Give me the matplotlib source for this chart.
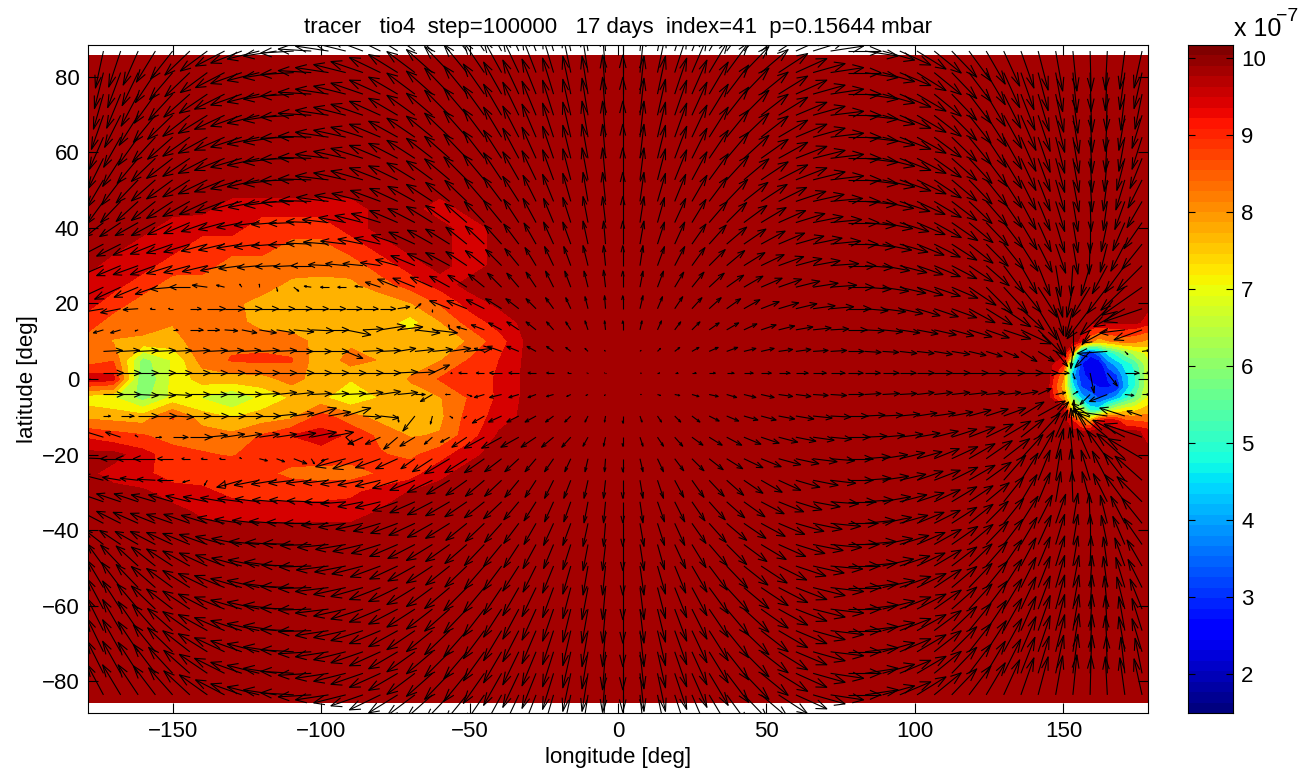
import numpy as np
import matplotlib
matplotlib.use('Agg')
import matplotlib.pyplot as plt
from matplotlib.collections import LineCollection

plt.rcParams['font.family'] = ['Liberation Sans', 'DejaVu Sans']
plt.rcParams['font.size'] = 16

# wind arrows, one row per latitude (north to south), one column per longitude
arrow_lon = [-173.3, -167.5, -161.6, -155.8, -150.0, -144.2, -138.3, -132.5, -126.7, -120.8,
             -115.0, -109.2, -103.3, -97.5, -91.7, -85.9, -80.0, -74.2, -68.4, -62.5,
             -56.7, -50.9, -45.0, -39.2, -33.4, -27.6, -21.7, -15.9, -10.1, -4.2,
             1.6, 7.4, 13.3, 19.1, 24.9, 30.7, 36.6, 42.4, 48.2, 54.1,
             59.9, 65.7, 71.6, 77.4, 83.2, 89.1, 94.9, 100.7, 106.5, 112.4,
             118.2, 124.0, 129.9, 135.7, 141.5, 147.4, 153.2, 159.0, 164.8, 170.7,
             176.5]
arrow_lat = [86.8, 81.1, 75.4, 69.8, 64.0, 58.4, 52.7, 47.0, 41.4, 35.7, 30.0, 24.3, 18.6, 13.0, 7.3, 1.6,
             -4.1, -9.8, -15.4, -21.1, -26.8, -32.5, -38.2, -43.8, -49.5, -55.2, -60.9, -66.6, -72.2, -77.9, -83.6]

u_wind = [
 [-8,-12,-15,-19,-22,-25,-27,-29,-31,-32, -33,-33,-33,-33,-32,-32,-31,-29,-28,-26, -25,-23,-21,-18,-16,-14,-11,-8,-6,-3, 0,4,8,12,15,19,22,25,27,29, 31,32,33,33,33,32,31,29,27,25, 22,19,16,13,10,7,4,1,-2,-5, -8],
 [-9,-13,-16,-20,-23,-25,-27,-29,-31,-32, -33,-33,-33,-33,-32,-32,-31,-29,-28,-26, -25,-23,-21,-18,-16,-14,-11,-8,-6,-3, 0,4,8,12,15,19,22,25,27,29, 31,32,33,33,33,32,31,29,27,25, 22,19,16,13,10,7,4,1,-2,-5, -8],
 [-10,-14,-17,-21,-24,-26,-28,-30,-31,-32, -33,-33,-33,-33,-32,-32,-31,-29,-28,-26, -25,-23,-21,-18,-16,-14,-11,-8,-6,-3, 0,4,8,12,15,19,22,25,27,29, 31,32,33,33,33,32,31,29,27,25, 22,19,17,14,11,8,5,2,-1,-4, -7],
 [-12,-16,-19,-22,-25,-27,-29,-30,-31,-32, -33,-33,-33,-33,-32,-32,-31,-29,-28,-26, -25,-23,-21,-18,-16,-14,-11,-8,-6,-3, 0,4,8,12,15,19,22,25,27,29, 31,32,33,33,33,32,31,29,27,25, 22,20,18,15,12,9,6,2,-2,-6, -10],
 [-14,-17,-20,-23,-25,-27,-29,-30,-31,-32, -33,-33,-33,-33,-32,-32,-31,-29,-28,-26, -25,-23,-21,-18,-16,-14,-11,-8,-6,-3, 0,4,8,12,15,19,22,25,27,29, 31,32,33,33,33,32,31,29,27,25, 22,20,18,15,12,9,6,2,-2,-6, -10],
 [-15,-18,-21,-24,-26,-27,-29,-30,-31,-32, -33,-33,-33,-33,-32,-32,-31,-29,-28,-26, -25,-23,-21,-18,-16,-14,-11,-8,-6,-3, 0,4,8,12,15,19,22,25,27,29, 31,32,33,33,33,32,31,29,27,25, 23,21,18,15,12,9,6,2,-3,-8, -12],
 [-16,-19,-22,-24,-26,-27,-29,-30,-31,-32, -33,-33,-33,-33,-32,-32,-31,-29,-28,-26, -25,-23,-21,-18,-16,-14,-11,-8,-6,-3, 0,4,8,12,15,19,22,25,27,29, 31,32,33,33,33,32,31,29,27,25, 23,21,18,15,12,9,6,2,-4,-9, -14],
 [-16,-20,-22,-24,-26,-27,-28,-29,-30,-31, -32,-32,-32,-32,-31,-31,-30,-28,-27,-26, -24,-22,-20,-18,-16,-13,-11,-8,-5,-3, 0,4,8,11,15,18,21,24,26,28, 30,31,32,32,32,31,30,28,27,25, 23,21,18,15,12,9,5,1,-4,-10, -15],
 [-18,-21,-23,-24,-25,-26,-26,-26,-25,-25, -25,-25,-25,-26,-27,-28,-29,-28,-27,-26, -24,-22,-20,-18,-15,-13,-10,-8,-5,-3, 0,4,7,11,14,18,20,23,25,27, 29,30,31,31,31,30,29,28,27,26, 24,22,19,16,13,9,5,0,-6,-12, -18],
 [-23,-24,-25,-25,-26,-26,-26,-26,-25,-25, -25,-25,-25,-25,-25,-25,-26,-26,-26,-25, -24,-21,-19,-17,-15,-12,-10,-8,-5,-2, 0,4,7,10,14,17,20,22,24,26, 28,29,30,30,30,29,28,27,26,25, 24,22,20,17,14,10,5,-1,-7,-14, -20],
 [-23,-24,-25,-25,-26,-26,-25,-24,-23,-22, -21,-20,-20,-20,-20,-20,-20,-22,-24,-25, -24,-21,-19,-16,-14,-11,-9,-7,-5,-2, 0,3,7,10,13,16,18,21,23,25, 26,27,28,28,28,27,27,26,26,25, 24,23,20,16,12,5,-2,-9,-15,-20, -25],
 [-28,-26,-24,-20,-22,-20,-15,-8,-2,0, 1,5,-7,-8,-8,-8,-15,-20,-22,-22, -20,-19,-16,-14,-12,-10,-8,-6,-4,-2, 0,3,6,9,12,15,17,19,21,23, 24,25,26,26,26,26,26,26,26,26, 27,26,24,20,19,7,-6,-18,-20,-24, -40],
 [-30,-20,-15,-5,-4,11,18,20,20,19, 18,18,17,17,16,15,15,12,6,0, -20,-20,-18,-16,-13,-10,-8,-5,-3,-1, 0,3,5,8,10,12,14,16,18,20, 21,22,23,23,23,23,23,23,24,25, 26,26,27,23,19,8,-7,-23,-27,-31, -38],
 [-10,-10,-3,0,5,13,12,13,15,17, 18,20,22,20,25,20,25,25,25,25, -1,-10,-13,-13,-12,-10,-7,-5,-3,-1, 0,2,4,6,8,10,12,13,15,16, 17,18,18,19,19,20,20,21,22,22, 23,23,27,30,25,10,0,-8,-24,-25, -28],
 [19,19,20,20,19,20,20,19,19,20, 20,19,20,20,17,20,20,18,19,20, 21,25,-10,-14,-12,-9,-7,-5,-3,-1, 0,1,3,5,7,9,11,12,13,14, 15,15,16,16,16,16,17,17,18,18, 17,16,15,16,16,12,-2,-15,-30,3, 7],
 [20,20,20,20,19,20,20,20,20,20, 20,20,20,20,20,20,20,20,20,17, 2,-8,-8,-12,-10,-8,-7,-3,-1,-1, 0,1,2,3,4,6,7,9,10,11, 12,13,14,15,15,16,16,17,18,18, 19,20,21,22,20,13,2,4,10,14, 7],
 [20,20,20,20,19,20,20,20,20,20, 20,20,20,20,20,20,20,20,10,-12, -4,5,-10,-12,-10,-8,-7,-4,-2,-1, 0,1,3,5,7,9,10,12,13,14, 15,15,16,16,16,17,17,17,18,18, 18,18,17,17,13,10,5,-10,-18,9, 7],
 [7,13,20,21,21,21,21,21,21,21, 20,20,25,22,25,18,18,1,-12,-2, 3,-3,-12,-13,-12,-11,-8,-6,-3,-1, 0,2,4,6,8,10,12,14,15,16, 18,19,20,20,20,20,20,20,21,21, 22,22,22,23,27,13,1,-18,-35,-25, -15],
 [-23,-15,-3,6,15,22,20,20,20,20, 20,22,25,25,8,-15,-15,-14,-15,-8, -9,-15,-20,-20,-18,-15,-12,-9,-5,-2, 0,3,6,8,11,13,15,17,18,19, 20,21,21,22,22,22,23,23,24,25, 26,27,27,23,22,12,-2,-16,-29,-32, -38],
 [-25,-20,-22,-22,-15,-8,-6,-5,-2,8, 8,13,3,-7,-30,-30,-25,-22,-14,-20, -25,-22,-20,-17,-14,-11,-9,-6,-3,-1, 0,3,6,9,12,14,16,19,20,22, 23,24,24,25,25,25,25,25,25,26, 26,26,26,22,16,8,-3,-13,-20,-28, -34],
 [-20,-18,-18,-18,-15,-7,-3,1,-25,-25, -25,-25,-25,-25,-25,-25,-25,-25,-25,-25, -23,-21,-19,-17,-14,-11,-9,-7,-4,-2, 0,3,6,9,12,15,17,19,21,22, 24,25,25,25,26,26,26,26,26,26, 26,25,22,17,12,5,-2,-9,-15,-21, -27],
 [-23,-24,-24,-24,-24,-24,-24,-24,-24,-24, -24,-24,-24,-24,-25,-25,-25,-25,-25,-25, -24,-22,-20,-18,-15,-12,-9,-7,-4,-2, 0,3,7,10,13,16,18,21,23,25, 26,27,28,28,28,28,27,27,26,25, 24,23,20,16,12,5,-1,-8,-14,-20, -25],
 [-23,-24,-25,-25,-26,-26,-26,-27,-27,-27, -27,-27,-27,-27,-27,-27,-27,-27,-26,-25, -24,-21,-19,-17,-15,-12,-10,-8,-5,-2, 0,4,7,10,14,17,20,22,24,26, 28,29,30,30,30,29,28,27,26,25, 24,22,20,17,14,10,5,-1,-7,-14, -20],
 [-18,-21,-23,-25,-26,-27,-28,-29,-30,-30, -31,-31,-31,-31,-30,-30,-29,-28,-27,-26, -24,-22,-20,-18,-15,-13,-10,-8,-5,-3, 0,4,7,11,14,18,20,23,25,27, 29,30,31,31,31,30,29,28,27,26, 24,22,19,16,13,9,5,0,-6,-12, -18],
 [-16,-20,-22,-24,-26,-27,-28,-29,-30,-31, -32,-32,-32,-32,-31,-31,-30,-28,-27,-26, -24,-22,-20,-18,-16,-13,-11,-8,-5,-3, 0,4,8,11,15,18,21,24,26,28, 30,31,32,32,32,31,30,28,27,25, 23,21,18,15,12,9,5,1,-4,-10, -15],
 [-16,-19,-22,-24,-26,-27,-29,-30,-31,-32, -33,-33,-33,-33,-32,-32,-31,-29,-28,-26, -25,-23,-21,-18,-16,-14,-11,-8,-6,-3, 0,4,8,12,15,19,22,25,27,29, 31,32,33,33,33,32,31,29,27,25, 23,21,18,15,12,9,6,2,-4,-9, -14],
 [-16,-18,-21,-24,-26,-27,-29,-30,-31,-32, -33,-33,-33,-33,-32,-32,-31,-29,-28,-26, -25,-23,-21,-18,-16,-14,-11,-8,-6,-3, 0,4,8,12,15,19,22,25,27,29, 31,32,33,33,33,32,31,29,27,25, 23,21,18,15,12,9,6,2,-3,-8, -12],
 [-16,-18,-20,-23,-25,-27,-29,-30,-31,-32, -33,-33,-33,-33,-32,-32,-31,-29,-28,-26, -25,-23,-21,-18,-16,-14,-11,-8,-6,-3, 0,4,8,12,15,19,22,25,27,29, 31,32,33,33,33,32,31,29,27,25, 22,20,18,15,12,9,6,2,-2,-6, -10],
 [-16,-18,-20,-22,-25,-27,-29,-30,-31,-32, -33,-33,-33,-33,-32,-32,-31,-29,-28,-26, -25,-23,-21,-18,-16,-14,-11,-8,-6,-3, 0,4,8,12,15,19,22,25,27,29, 31,32,33,33,33,32,31,29,27,25, 22,20,18,15,12,9,6,2,-2,-6, -10],
 [-16,-18,-20,-22,-24,-26,-28,-30,-31,-32, -33,-33,-33,-33,-32,-32,-31,-29,-28,-26, -25,-23,-21,-18,-16,-14,-11,-8,-6,-3, 0,4,8,12,15,19,22,25,27,29, 31,32,33,33,33,32,31,29,27,25, 22,19,17,14,11,8,5,2,-1,-4, -7],
 [-16,-18,-20,-22,-24,-26,-28,-29,-31,-32, -33,-33,-33,-33,-32,-32,-31,-29,-28,-26, -25,-23,-21,-18,-16,-14,-11,-8,-6,-3, 0,4,8,12,15,19,22,25,27,29, 31,32,33,33,33,32,31,29,27,25, 22,19,16,13,10,7,4,1,-2,-5, -8],
]

v_wind = [
 [-37,-36,-34,-31,-28,-24,-20,-15,-12,-8, -5,-2,2,5,8,12,15,18,21,24, 26,29,31,33,35,36,38,39,40,40, 40,40,39,38,36,33,30,27,23,19, 14,10,5,0,-5,-9,-14,-18,-22,-26, -30,-33,-35,-37,-39,-40,-40,-40,-39,-38, -37],
 [-36,-35,-33,-30,-27,-24,-20,-15,-11,-8, -5,-2,2,5,8,11,15,18,21,23, 26,28,31,33,34,36,37,38,39,39, 40,39,38,37,35,32,30,26,23,19, 14,9,5,0,-5,-9,-13,-18,-22,-26, -29,-32,-35,-37,-38,-39,-40,-39,-38,-37, -36],
 [-35,-34,-32,-29,-26,-23,-19,-15,-11,-8, -5,-2,2,5,8,11,14,17,21,23, 26,28,30,32,34,35,36,38,38,39, 39,38,38,36,34,32,29,26,22,18, 14,9,5,0,-5,-9,-13,-17,-22,-26, -29,-32,-34,-36,-37,-38,-39,-38,-37,-36, -35],
 [-34,-32,-30,-27,-24,-21,-18,-14,-11,-8, -5,-2,2,5,8,11,14,17,20,22, 25,27,29,31,33,34,35,36,37,38, 38,37,36,35,33,31,28,25,21,18, 13,9,4,0,-4,-9,-13,-17,-21,-25, -28,-31,-33,-35,-36,-37,-38,-37,-36,-35, -33],
 [-32,-30,-28,-25,-22,-19,-16,-13,-10,-7, -5,-1,1,5,7,10,13,16,19,21, 24,26,28,30,31,33,34,35,36,36, 36,36,35,34,32,30,27,24,21,17, 13,9,4,0,-4,-8,-12,-16,-20,-24, -27,-30,-32,-34,-35,-36,-36,-36,-35,-34, -32],
 [-30,-28,-25,-23,-20,-18,-15,-12,-9,-7, -4,-1,1,4,7,10,13,15,18,20, 22,24,27,28,30,31,32,33,34,34, 34,34,33,32,30,28,26,23,19,16, 12,8,4,0,-4,-8,-12,-15,-19,-22, -25,-28,-30,-32,-33,-34,-34,-34,-33,-32, -30],
 [-27,-25,-23,-21,-19,-17,-14,-12,-9,-7, -4,-1,1,4,7,9,12,14,17,19, 21,23,25,27,28,29,30,31,32,32, 32,32,31,30,28,26,24,21,18,15, 12,8,4,0,-4,-7,-11,-14,-18,-21, -24,-26,-28,-30,-31,-32,-32,-32,-31,-30, -28],
 [-22,-21,-20,-19,-17,-15,-13,-11,-8,-6, -4,-1,1,4,6,8,11,13,15,17, 19,21,23,24,25,26,27,28,29,29, 29,29,28,27,26,24,22,19,17,14, 10,7,3,0,-3,-7,-10,-13,-16,-19, -22,-24,-26,-28,-29,-30,-30,-30,-29,-28, -26],
 [-14,-14,-13,-13,-12,-11,-9,-7,-5,-3, -2,-1,1,3,5,7,9,12,14,16, 17,19,21,22,23,24,24,25,26,26, 26,26,25,24,23,21,20,17,15,12, 9,6,3,0,-3,-6,-9,-12,-15,-18, -20,-23,-25,-27,-29,-30,-30,-30,-29,-28, -26],
 [-12,-12,-11,-10,-9,-8,-7,-6,-4,-3, -2,-1,1,2,3,5,6,9,12,14, 15,17,18,19,20,21,22,22,23,23, 23,23,22,22,20,19,17,15,13,11, 8,6,3,0,-3,-6,-8,-11,-13,-16, -19,-22,-25,-27,-28,-29,-30,-30,-28,-27, -25],
 [-10,-10,-9,-9,-8,-7,-6,-5,-3,-2, -1,-1,0,1,2,2,3,6,10,12, 13,14,15,16,17,18,19,19,20,20, 20,20,19,19,18,16,15,13,11,9, 7,5,2,0,-2,-5,-7,-9,-11,-13, -16,-20,-27,-28,-30,-31,-30,-30,-28,-27, -25],
 [-13,-12,-10,-7,-2,0,2,2,3,3, -4,-4,1,0,0,1,5,8,9,10, 11,12,13,14,14,15,16,16,16,17, 16,16,16,15,15,14,12,11,9,8, 6,4,2,0,-2,-4,-6,-8,-9,-11, -18,-26,-26,-25,-30,-30,-30,-30,-26,-23, -28],
 [-5,-4,-1,0,0,0,0,0,0,0, 0,0,0,0,0,0,0,2,5,-3, 8,8,9,10,10,10,11,11,12,13, 13,13,12,12,11,11,10,9,7,6, 5,3,2,0,-2,-3,-5,-7,-8,-9, -14,-16,-18,-21,-31,-27,-28,-30,-26,-18, -13],
 [-3,-3,-1,0,0,0,0,-1,-3,-3, -3,-2,-1,0,-5,1,4,3,-3,-3, 5,3,5,7,8,8,8,8,9,9, 9,9,9,8,8,7,7,6,5,4, 3,2,1,0,-1,-2,-3,-4,-5,-6, -7,-8,-9,-14,-25,-27,-25,-15,-13,-3, -10],
 [1,1,1,1,1,1,1,1,1,1, 1,0,0,0,-7,1,1,3,2,2, 3,3,3,5,5,5,5,4,3,1, 0,1,3,4,4,4,4,3,3,2, 2,1,1,0,-1,-1,-2,-2,-3,-3, -4,-5,-6,-10,-10,-15,-17,-16,-2,-3, 1],
 [0,0,0,0,0,0,0,0,0,0, 0,0,0,0,0,0,0,1,1,8, 0,0,0,0,0,0,0,0,0,0, 0,0,0,0,0,0,0,0,0,0, 0,0,0,0,0,0,0,0,0,0, 0,0,0,0,0,0,-6,-20,-13,0, 0],
 [0,0,-1,-1,-1,0,0,0,0,1, 2,2,1,1,1,2,3,2,0,-7, 0,-2,-3,-3,-3,-3,-2,-2,-1,-1, 0,0,-1,-1,-2,-2,-3,-3,-3,-2, -2,-1,-1,0,1,1,1,2,2,2, 2,2,2,3,6,2,3,-10,-7,-1, 0],
 [0,0,0,0,-1,0,0,0,0,0, 2,3,8,4,8,-1,-2,-6,-15,-8, -2,-2,-7,-6,-6,-6,-6,-6,-6,-6, -7,-6,-6,-6,-6,-5,-5,-4,-4,-3, -3,-2,-1,0,1,1,2,3,3,4, 6,7,8,14,15,14,16,12,5,8, 5],
 [7,5,2,0,0,0,2,3,3,3, 3,4,5,5,-8,-7,-7,-12,-9,-7, -5,-10,-11,-11,-10,-10,-10,-10,-9,-9, -9,-9,-9,-9,-8,-8,-8,-7,-6,-5, -4,-3,-2,0,1,2,3,4,6,8, 10,13,16,18,24,27,29,29,24,17, 13],
 [1,0,0,0,0,0,0,0,1,-2, -3,-5,-5,-2,-8,-10,-9,-10,-10,-13, -15,-14,-14,-13,-13,-13,-13,-13,-13,-13, -13,-13,-13,-12,-12,-11,-10,-9,-8,-6, -5,-3,-2,0,2,4,6,7,10,12, 15,18,20,24,28,30,31,30,28,25, 20],
 [5,3,2,1,0,-2,-5,-7,-7,-5, -4,-3,-3,-3,-4,-5,-6,-8,-10,-12, -14,-15,-16,-16,-17,-17,-18,-18,-18,-18, -18,-18,-18,-17,-17,-16,-15,-13,-12,-10, -7,-5,-3,0,2,4,6,9,10,13, 15,18,25,27,30,31,31,30,29,27, 24],
 [8,8,8,7,7,6,5,4,3,3, 2,2,1,0,-2,-5,-6,-9,-11,-13, -14,-15,-16,-17,-18,-19,-20,-20,-21,-21, -21,-21,-20,-20,-19,-18,-16,-15,-12,-10, -8,-5,-2,0,2,5,7,9,12,15, 16,19,25,27,29,30,30,30,28,27, 25],
 [12,12,11,10,9,9,8,6,4,3, 2,1,0,-2,-4,-6,-8,-10,-12,-14, -15,-17,-18,-19,-20,-21,-22,-22,-23,-23, -23,-23,-22,-22,-20,-19,-17,-15,-13,-11, -8,-6,-3,0,3,6,8,11,13,16, 19,22,25,27,28,29,30,30,28,27, 25],
 [14,14,13,13,12,11,10,8,6,3, 2,1,-1,-3,-5,-7,-9,-12,-14,-16, -17,-19,-21,-22,-23,-24,-24,-25,-26,-26, -26,-26,-25,-24,-23,-21,-20,-17,-15,-12, -9,-6,-3,0,3,6,9,12,15,18, 20,23,25,27,29,30,30,30,29,28, 26],
 [22,21,20,19,17,15,13,11,8,6, 4,1,-1,-4,-6,-8,-11,-13,-15,-17, -19,-21,-23,-24,-25,-26,-27,-28,-29,-29, -29,-29,-28,-27,-26,-24,-22,-19,-17,-14, -10,-7,-3,0,3,7,10,13,16,19, 22,24,26,28,29,30,30,30,29,28, 26],
 [27,25,23,21,19,17,14,12,9,7, 4,1,-1,-4,-7,-9,-12,-14,-17,-19, -21,-23,-25,-27,-28,-29,-30,-31,-32,-32, -32,-32,-31,-30,-28,-26,-24,-21,-18,-15, -12,-8,-4,0,4,7,11,14,18,21, 24,26,28,30,31,32,32,32,31,30, 28],
 [30,28,25,23,20,18,15,12,9,7, 4,1,-1,-4,-7,-10,-13,-15,-18,-20, -22,-24,-27,-28,-30,-31,-32,-33,-34,-34, -34,-34,-33,-32,-30,-28,-26,-23,-19,-16, -12,-8,-4,0,4,8,12,15,19,22, 25,28,30,32,33,34,34,34,33,32, 30],
 [32,31,29,26,22,19,16,13,10,7, 5,1,-1,-5,-7,-10,-13,-16,-19,-21, -24,-26,-28,-30,-31,-33,-34,-35,-36,-36, -36,-36,-35,-34,-32,-30,-27,-24,-21,-17, -13,-9,-4,0,4,8,12,16,20,24, 27,30,32,34,35,36,36,36,35,34, 32],
 [33,32,30,27,24,21,18,14,11,8, 5,2,-2,-5,-8,-11,-14,-17,-20,-22, -25,-27,-29,-31,-33,-34,-35,-36,-37,-38, -38,-37,-36,-35,-33,-31,-28,-25,-21,-18, -13,-9,-4,0,4,9,13,17,21,25, 28,31,33,35,36,37,38,37,36,35, 33],
 [32,32,31,29,26,23,19,15,11,8, 5,2,-2,-5,-8,-11,-14,-17,-21,-23, -26,-28,-30,-32,-34,-35,-36,-38,-38,-39, -39,-38,-38,-36,-34,-32,-29,-26,-22,-18, -14,-9,-5,0,5,9,13,17,22,26, 29,32,34,36,37,38,39,38,37,36, 35],
 [30,30,30,29,27,24,20,15,11,8, 5,2,-2,-5,-8,-11,-15,-18,-21,-23, -26,-28,-31,-33,-34,-36,-37,-38,-39,-39, -40,-39,-38,-37,-35,-32,-30,-26,-23,-19, -14,-9,-5,0,5,9,13,18,22,26, 29,32,35,37,38,39,40,39,38,37, 36],
]

# tracer on the night side plume, in units of 1e-7
plume_lon = [-178.5, -170, -160, -150, -140, -130, -120, -110, -100, -90, -80, -70, -60, -50, -40, -30]
plume_lat = [85.7, 50, 45, 40, 35, 30, 25, 20, 15, 10, 5, 0, -5, -10, -15, -20, -25, -30, -35, -40, -85.7]
plume = [
 [10,10,10,10,10,10,10,10,10,10,10,10,10,10,10,10],
 [10,10,10,10,10,10,10,10,10,10,10,10,10,10,10,10],
 [10,10,10,10,9.95,9.7,9.7,9.7,9.7,9.7,10,10,9.7,10,10,10],
 [10,10,10,9.7,9.7,9.7,9.2,9.2,9.2,9.7,10,10,10,9.7,10,10],
 [10,10,9.7,9.7,9.2,9.2,9.2,8.75,8.75,9.2,9.7,10,10,9.7,10,10],
 [10,9.7,9.7,9.2,9.2,8.65,8.65,8.65,8.65,8.65,9.2,9.7,10,9.7,10,10],
 [9.7,9.7,9.2,8.7,8.65,8.65,8.65,8.2,8.1,8.2,8.7,9.2,9.7,10,10,10],
 [9.7,9.2,8.7,8.65,8.65,8.5,8.1,8.1,8.1,8.0,7.9,8.3,9.0,9.7,9.95,10],
 [9.2,8.7,8.65,8.4,8.6,8.6,8.1,8.0,8.0,8.1,8.1,7.5,8.3,9.2,9.7,10],
 [8.7,8.3,8.2,8.1,8.7,8.8,8.7,8.65,8.1,8.2,8.0,8.0,8.0,8.4,9.3,10],
 [8.6,8.9,6.3,7.2,8.6,9.0,9.1,9.0,7.9,8.6,8.3,8.1,8.3,9.0,9.5,10],
 [9.9,9.7,5.9,7.3,8.0,8.1,8.1,8.6,8.0,7.8,7.9,8.4,9.0,9.1,9.6,10],
 [7.4,7.2,6.3,7.3,7.1,6.5,7.3,7.8,7.9,7.2,7.8,8.1,8.3,9.0,9.6,10],
 [8.2,8.1,8.0,9.0,8.0,7.7,8.0,8.2,9.2,8.6,8.1,8.0,8.2,9.2,9.7,10],
 [9.4,9.2,9.0,8.7,8.7,8.5,9.0,9.5,9.7,9.4,8.8,8.3,8.4,9.3,9.95,10],
 [10,10,9.7,9.2,9.0,8.9,9.2,9.2,9.3,9.2,9.0,8.8,9.3,9.8,10,10],
 [9.95,9.75,9.6,9.3,9.3,9.3,9.1,8.8,8.7,8.7,9.0,9.3,9.8,10,10,10],
 [10,10,9.95,9.7,9.6,9.4,9.3,9.3,9.3,9.4,9.7,9.9,10,10,10,10],
 [10,10,10,10,9.8,9.7,9.7,9.7,9.7,9.7,9.9,10,10,10,10,10],
 [10,10,10,10,10,10,10,10,10,10,10,10,10,10,10,10],
 [10,10,10,10,10,10,10,10,10,10,10,10,10,10,10,10],
]

# tracer around the cold trap on the east side
trap_lon = [145, 150, 153, 156, 159, 162, 165, 168, 171, 174, 178.5]
trap_lat = [20, 15, 10, 7, 4, 1, -2, -5, -8, -11, -14, -20]
trap = [
 [10,10,10,10,10,10,10,10,10,10,10],
 [10,10,10,10,10,10,10,10,10,10,9.7],
 [10,10,10,9.8,8.5,8.0,8.3,8.5,8.6,8.5,8.2],
 [10,10,8.5,3.8,3.2,4.0,5.0,5.6,6.3,6.8,7.3],
 [10,9.5,5.5,3.0,2.4,2.4,3.8,4.4,5.0,5.5,7.0],
 [10,8.5,4.5,3.2,2.6,2.6,3.0,3.5,4.6,5.2,7.0],
 [9.9,8.0,5.0,3.5,3.2,2.9,2.9,3.0,4.4,5.3,7.0],
 [10,8.5,6.3,4.5,3.9,3.5,3.8,4.4,5.2,5.9,7.2],
 [10,9.9,7.5,6.8,5.0,5.0,6.3,7.0,7.4,7.5,8.0],
 [10,10,9.5,8.5,8.0,9.5,9.8,9.6,9.0,8.9,8.8],
 [10,10,10,10,10,10,10,10,10,10,9.7],
 [10,10,10,10,10,10,10,10,10,10,10],
]

levels = [1.49, 1.75, 2.35, 2.95, 3.55, 4.15, 4.75, 5.35, 5.95, 6.55, 7.15, 7.75, 8.35, 8.95, 9.5, 9.88, 10.3]
xticks = [-150, -100, -50, 0, 50, 100, 150]
yticks = [-80, -60, -40, -20, 0, 20, 40, 60, 80]
cticks = [2, 3, 4, 5, 6, 7, 8, 9, 10]

vmin, vmax = 1.49, 10.17
W, H = 1308, 778
jet = plt.get_cmap('jet')
band_colors = [jet((l - vmin) / (vmax - vmin)) for l in levels[:-1]]

fig = plt.figure(figsize=(W / 100, H / 100), dpi=100)
ax = fig.add_axes([88 / W, 1 - 713 / H, (1148 - 88) / W, (713 - 45) / H])

ax.fill_between([-178.5, 178.5], -85.7, 85.7, color=band_colors[-1], lw=0)
ax.contourf(plume_lon, plume_lat, plume, levels=levels, colors=band_colors)
ax.contourf(trap_lon, trap_lat, trap, levels=levels, colors=band_colors)

# arrows are drawn the way matlab quiver does: shaft plus open head
px_x, px_y = 2.97, 3.78
X, Y = np.meshgrid(arrow_lon, arrow_lat)
U = np.array(u_wind, dtype=float) / px_x
V = np.array(v_wind, dtype=float) / px_y
alpha, beta = 0.33, 0.33
segs = []
for x, y, u, v in zip(X.ravel(), Y.ravel(), U.ravel(), V.ravel()):
    if u == 0 and v == 0:
        continue
    tip = (x + u, y + v)
    h1 = (x + u - alpha * (u + beta * v), y + v - alpha * (v - beta * u))
    h2 = (x + u - alpha * (u - beta * v), y + v - alpha * (v + beta * u))
    segs.append([(x, y), tip])
    segs.append([h1, tip, h2])
ax.add_collection(LineCollection(segs, colors='k', linewidths=0.8, zorder=3))

ax.set_xlim(-178.5, 178.5)
ax.set_ylim(-88.4, 88.4)
ax.set_xticks(xticks)
ax.set_yticks(yticks)
ax.tick_params(direction='in', length=7, width=0.8, top=True, right=True, pad=6, labelsize=16, zorder=4)
ax.set_xlabel('longitude [deg]', fontsize=16, labelpad=3)
ax.set_ylabel('latitude [deg]', fontsize=16, labelpad=3)
ax.set_title('tracer   tio4  step=100000   17 days  index=41  p=0.15644 mbar', fontsize=16, pad=9)

# colorbar with 64 flat bands
cax = fig.add_axes([1188 / W, 1 - 713 / H, 45 / W, (713 - 45) / H])
edges = np.linspace(vmin, vmax, 65)
cax.pcolormesh([0, 1], edges, (edges[:-1] + edges[1:])[:, None] / 2, cmap=plt.get_cmap('jet', 64), vmin=vmin, vmax=vmax)
cax.set_xticks([])
cax.set_yticks(cticks)
cax.yaxis.tick_right()
cax.tick_params(direction='in', length=5, width=0.8, left=True, right=True, labelsize=16, pad=6)
fig.text(1234 / W, 1 - 36 / H, 'x 10', fontsize=18, ha='left', va='baseline')
fig.text(1276 / W, 1 - 21 / H, '\u22127', fontsize=14, ha='left', va='baseline')

fig.savefig('out.png', dpi=100)
